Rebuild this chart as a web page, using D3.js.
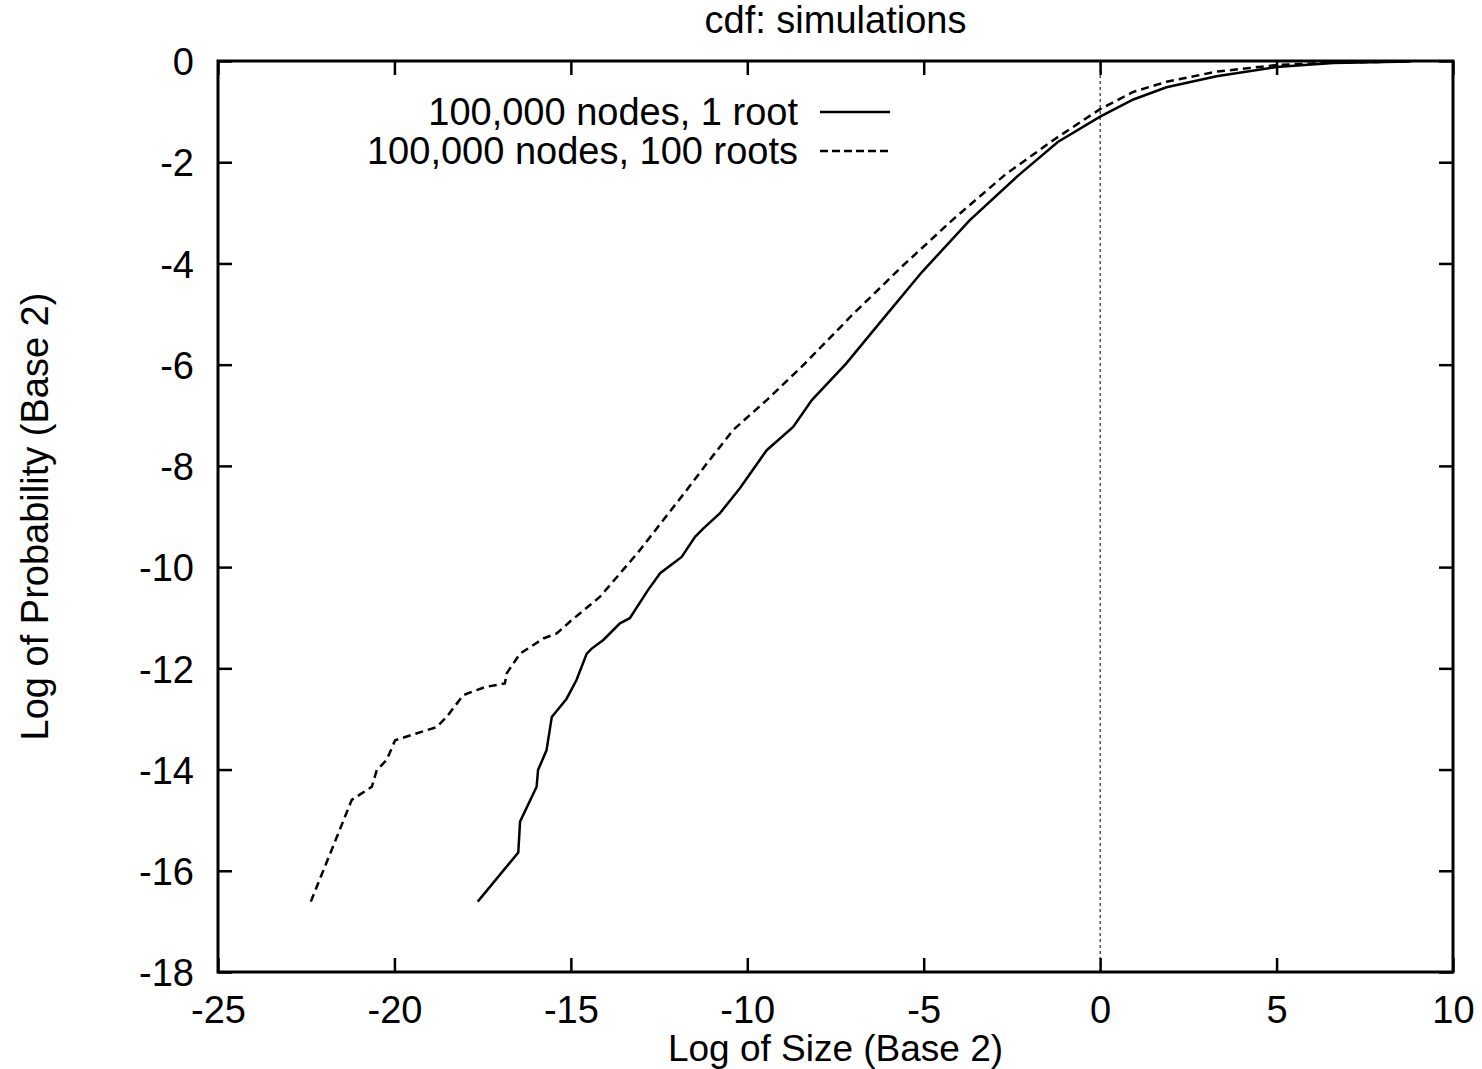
<!DOCTYPE html>
<html>
<head>
<meta charset="utf-8">
<script src="https://cdn.jsdelivr.net/npm/d3@7"></script>
<style>
  body { margin: 0; background: #fff; }
  text { font-family: "Liberation Sans", Arial, Helvetica, sans-serif; fill: #000; }
</style>
</head>
<body>
<svg id="chart" width="1482" height="1069"></svg>
<script>
// log2(size) vs log2(cdf)
const oneRoot = [
  [-17.64,-16.61],[-16.49,-15.64],[-16.44,-15.03],[-15.97,-14.34],[-15.93,-14.01],
  [-15.69,-13.62],[-15.54,-12.96],[-15.12,-12.60],[-14.84,-12.23],[-14.55,-11.71],
  [-14.41,-11.61],[-14.08,-11.44],[-13.61,-11.11],[-13.33,-11.01],[-12.81,-10.45],
  [-12.47,-10.12],[-11.86,-9.80],[-11.48,-9.40],[-11.25,-9.24],[-10.78,-8.94],
  [-10.21,-8.44],[-9.45,-7.69],[-8.70,-7.23],[-8.17,-6.70],[-7.20,-5.98],
  [-6.10,-5.05],[-5.05,-4.17],[-3.70,-3.15],[-2.30,-2.25],[-1.20,-1.60],[0,-1.10],
  [0.94,-0.76],[1.88,-0.52],[3.30,-0.30],[5.0,-0.12],[6.6,-0.04],[8.8,-0.01]
];
const hundredRoots = [
  [-22.37,-16.61],[-21.21,-14.60],[-20.64,-14.34],[-20.50,-14.01],[-20.22,-13.81],
  [-19.98,-13.42],[-18.80,-13.16],[-18.52,-12.96],[-18.05,-12.53],[-17.67,-12.43],
  [-17.43,-12.37],[-16.87,-12.30],[-16.82,-12.10],[-16.44,-11.71],[-15.78,-11.41],
  [-15.40,-11.31],[-15.03,-11.08],[-14.18,-10.59],[-13.28,-9.86],[-13.04,-9.66],
  [-12.38,-9.07],[-11.72,-8.48],[-11.11,-7.92],[-10.40,-7.29],[-9.45,-6.70],
  [-8.40,-6.00],[-7.00,-5.00],[-5.60,-4.05],[-4.20,-3.15],[-2.70,-2.25],
  [-1.30,-1.55],[0,-0.95],
  [0.94,-0.61],[1.88,-0.41],[3.30,-0.21],[5.0,-0.08],[6.6,-0.03],[8.8,-0.01]
];
const xTicks = [-25, -20, -15, -10, -5, 0, 5, 10];
const yTicks = [0, -2, -4, -6, -8, -10, -12, -14, -16, -18];
const seriesNames = ["100,000 nodes, 1 root", "100,000 nodes, 100 roots"];

const svg = d3.select("#chart");
const m = {left: 218, right: 1453, top: 61, bottom: 972};
const x = d3.scaleLinear().domain([-25, 10]).range([m.left, m.right]);
const y = d3.scaleLinear().domain([-18, 0]).range([m.bottom, m.top]);
const fmt = d => String(d); // plain hyphen minus, as in the original

const styleAxis = (g) => {
  g.select(".domain").remove();
  g.selectAll(".tick line").attr("stroke", "#000").attr("stroke-width", 2.5);
  g.selectAll(".tick text").style("font-size", "38px").style("font-family", "Liberation Sans, Arial, sans-serif");
};

svg.append("g").attr("transform", `translate(0,${m.bottom})`)
  .call(d3.axisBottom(x).tickValues(xTicks).tickSize(-14).tickPadding(24).tickFormat(fmt))
  .call(styleAxis);
svg.append("g").attr("transform", `translate(0,${m.top})`)
  .call(d3.axisTop(x).tickValues(xTicks).tickSize(-14).tickFormat(""))
  .call(styleAxis);
svg.append("g").attr("transform", `translate(${m.left},0)`)
  .call(d3.axisLeft(y).tickValues(yTicks).tickSize(-14).tickPadding(24).tickFormat(fmt))
  .call(styleAxis)
  .selectAll(".tick text").attr("dy", "0.36em");
svg.append("g").attr("transform", `translate(${m.right},0)`)
  .call(d3.axisRight(y).tickValues(yTicks).tickSize(-14).tickFormat(""))
  .call(styleAxis);

// x = 0 reference line
svg.append("line")
  .attr("x1", x(0)).attr("x2", x(0)).attr("y1", y(-18)).attr("y2", y(0))
  .attr("stroke", "#000").attr("stroke-width", 1).attr("stroke-dasharray", "3,3");

// frame
svg.append("rect")
  .attr("x", m.left).attr("y", m.top)
  .attr("width", m.right - m.left).attr("height", m.bottom - m.top)
  .attr("fill", "none").attr("stroke", "#000").attr("stroke-width", 3);

const line = d3.line().x(d => x(d[0])).y(d => y(d[1]));
svg.append("path").datum(oneRoot).attr("d", line)
  .attr("fill", "none").attr("stroke", "#000").attr("stroke-width", 2.5);
svg.append("path").datum(hundredRoots).attr("d", line)
  .attr("fill", "none").attr("stroke", "#000").attr("stroke-width", 2.5)
  .attr("stroke-dasharray", "8,5");

// legend
const legend = svg.append("g");
seriesNames.forEach((name, i) => {
  const ly = 112 + i * 39;
  legend.append("text").attr("x", 798).attr("y", ly).attr("dy", "0.35em")
    .attr("text-anchor", "end").style("font-size", "38px").text(name);
  legend.append("line").attr("x1", 820).attr("x2", 890).attr("y1", ly).attr("y2", ly)
    .attr("stroke", "#000").attr("stroke-width", 2.5)
    .attr("stroke-dasharray", i === 1 ? "8,4" : null);
});

// titles
svg.append("text").attr("x", (m.left + m.right) / 2).attr("y", 33)
  .attr("text-anchor", "middle").style("font-size", "38px").text("cdf: simulations");
svg.append("text").attr("x", (m.left + m.right) / 2).attr("y", 1061)
  .attr("text-anchor", "middle").style("font-size", "37px").text("Log of Size (Base 2)");
svg.append("text").attr("transform", `translate(48,${(m.top + m.bottom) / 2}) rotate(-90)`)
  .attr("text-anchor", "middle").style("font-size", "38px").text("Log of Probability (Base 2)");
</script>
</body>
</html>
